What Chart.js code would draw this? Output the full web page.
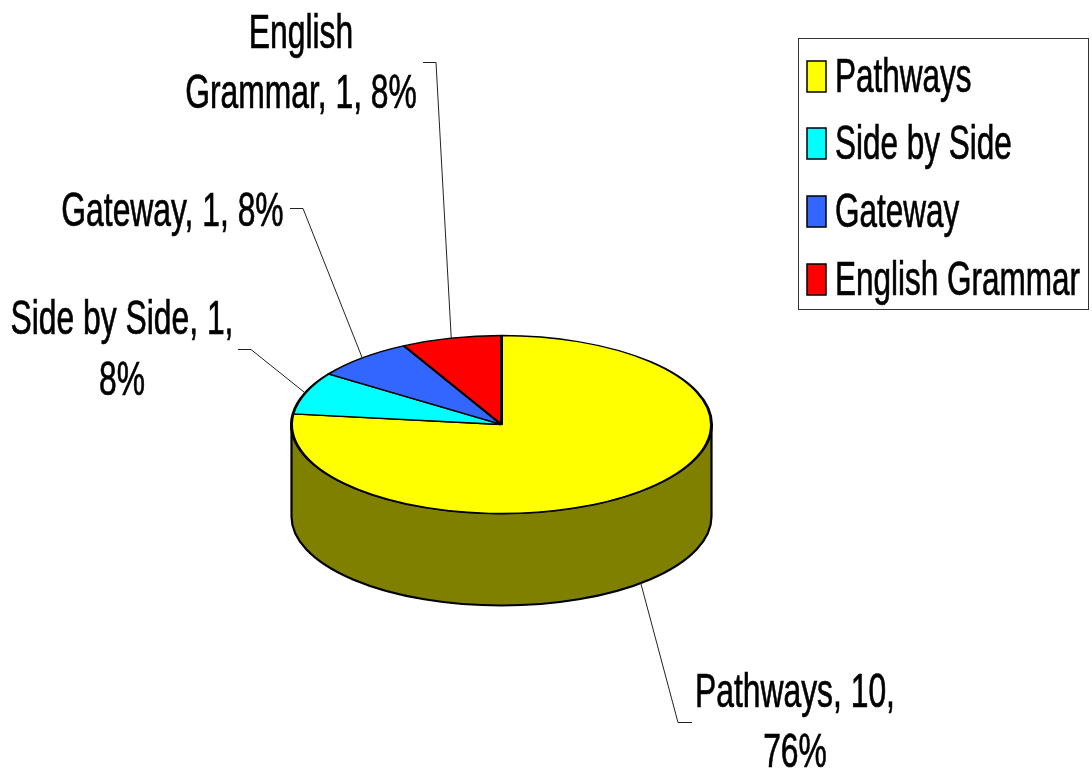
<!DOCTYPE html>
<html><head><meta charset="utf-8">
<style>html,body{margin:0;padding:0;background:#fff}#w{width:1092px;height:775px}canvas{display:block}</style>
<script src="https://cdn.jsdelivr.net/npm/chart.js@4"></script></head>
<body><div id="w"><canvas id="c" width="1092" height="775"></canvas></div>
<script>
const categories = ["Pathways", "Side by Side", "Gateway", "English Grammar"];
const values = [10, 1, 1, 1];
const percentLabels = ["76%", "8%", "8%", "8%"];
const sliceColors = ["#FFFF00", "#00FFFF", "#3366FF", "#FF0000"];
const rimColors = ["#808000", "#008080", "#1A3380", "#800000"];

const FONT = '48px "Liberation Sans"';
const LABEL_NARROW = 0.663, LEGEND_NARROW = 0.656;
const RY = 89, DEPTH = 92;
// splitAt: character count of the first line of each wrapped data label
const labelLayout = [
  {splitAt:13, x:795, y:[707,767], elbow:[678,722,692,722], depth:true},
  {splitAt:16, x:122, y:[334,395], elbow:[251,349,238,349]},
  {splitAt:0, x:172.5, y:[226], elbow:[303,208,290,208]},
  {splitAt:7, x:301, y:[48,108], elbow:[436,62,423,62]}
];
const legendBox = {x:798.5,y:38.5,w:290,h:271,swatchX:807,swatchW:19,swatchH:31,textX:835,baselines:[92,159,227,295]};

function labelLines(i, splitAt){
  const full = `${categories[i]}, ${values[i]}, ${percentLabels[i]}`;
  return splitAt ? [full.slice(0,splitAt).trim(), full.slice(splitAt).trim()] : [full];
}
function narrowText(ctx,text,x,y,align,sx){
  ctx.save();
  ctx.translate(x,y); ctx.scale(sx,1);
  ctx.textAlign=align; ctx.textBaseline='alphabetic';
  ctx.font=FONT; ctx.fillStyle='#000'; ctx.strokeStyle='#000'; ctx.lineWidth=0.7;
  ctx.fillText(text,0,0); ctx.strokeText(text,0,0);
  ctx.restore();
}

const pie3d = {
  id:'pie3d',
  beforeDatasetsDraw(chart){
    const ctx = chart.ctx, arcs = chart.getDatasetMeta(0).data;
    ctx.save();
    arcs.forEach((a,i)=>{
      const s = Math.max(a.startAngle,0), e = Math.min(a.endAngle,Math.PI);
      if (e <= s) return;
      ctx.beginPath();
      ctx.ellipse(a.x, a.y, a.outerRadius, RY, 0, s, e);
      ctx.ellipse(a.x, a.y+DEPTH, a.outerRadius, RY, 0, e, s, true);
      ctx.closePath();
      ctx.fillStyle = rimColors[i]; ctx.fill();
      ctx.strokeStyle = '#000'; ctx.lineWidth = 2.2; ctx.stroke();
    });
    ctx.restore();
    ctx.save();
    const a = arcs[0];
    ctx.translate(a.x, a.y); ctx.scale(1,RY/a.outerRadius); ctx.translate(-a.x,-a.y);
  },
  afterDatasetsDraw(chart){
    const ctx = chart.ctx, arcs = chart.getDatasetMeta(0).data;
    ctx.restore();
    ctx.save();
    ctx.strokeStyle = '#222'; ctx.lineWidth = 1;
    labelLayout.forEach((t,i)=>{
      const a = arcs[i], m = (a.startAngle+a.endAngle)/2;
      const px = a.x + a.outerRadius*Math.cos(m);
      const py = a.y + RY*Math.sin(m) + (t.depth ? DEPTH : 0);
      ctx.beginPath(); ctx.moveTo(px,py);
      ctx.lineTo(t.elbow[0],t.elbow[1]+.5); ctx.lineTo(t.elbow[2],t.elbow[3]+.5); ctx.stroke();
      labelLines(i,t.splitAt).forEach((ln,j)=>narrowText(ctx,ln,t.x,t.y[j],'center',LABEL_NARROW));
    });
    const L = legendBox;
    ctx.strokeStyle='#333'; ctx.lineWidth=1;
    ctx.strokeRect(L.x,L.y,L.w,L.h);
    categories.forEach((c,i)=>{
      const b=L.baselines[i];
      ctx.fillStyle=sliceColors[i]; ctx.fillRect(L.swatchX,b-L.swatchH,L.swatchW,L.swatchH);
      ctx.strokeStyle='#000'; ctx.lineWidth=1.5; ctx.strokeRect(L.swatchX,b-L.swatchH,L.swatchW,L.swatchH);
      narrowText(ctx,c,L.textX,b,'left',LEGEND_NARROW);
    });
    ctx.restore();
  }
};

new Chart(document.getElementById('c'),{
  type:'pie',
  data:{labels:categories,datasets:[{data:values,backgroundColor:sliceColors,borderColor:'#000',borderWidth:3}]},
  options:{
    responsive:false,animation:false,
    layout:{padding:{left:290,top:213,bottom:139,right:379}},
    plugins:{tooltip:{enabled:false},legend:{display:false}}
  },
  plugins:[pie3d]
});
</script></body></html>
